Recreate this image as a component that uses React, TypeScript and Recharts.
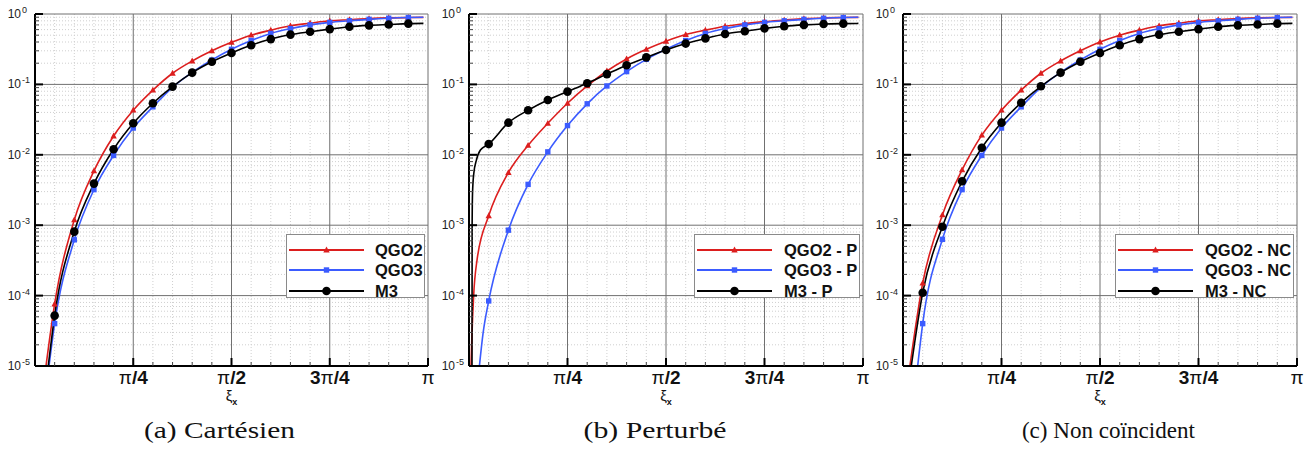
import React from "react";
import { LineChart, Line, XAxis, YAxis, ReferenceLine, Legend } from "recharts";

const PI = Math.PI;

// markers sit every pi/20; the last entry is where the curves stop
const markSteps = [1, 2, 3, 4, 5, 6, 7, 8, 9, 10, 11, 12, 13, 14, 15, 16, 17, 18, 19];
const curveEnd = 3.105;
const xs = [...markSteps.map((k) => (k * PI) / 20), curveEnd];

// (a) Cartésien
const qgo2AHead = [[0.088, 1e-5]];
const qgo2A = [7.6e-5, 1.19e-3, 5.9e-3, 1.85e-2, 4.3e-2, 8.3e-2, 0.144, 0.215, 0.3, 0.396, 0.5, 0.59, 0.68, 0.74, 0.8, 0.83, 0.86, 0.88, 0.89, 0.895];
const qgo3AHead = [[0.112, 1e-5]];
const qgo3A = [4.0e-5, 6.2e-4, 3.2e-3, 9.8e-3, 2.4e-2, 4.8e-2, 9.1e-2, 0.148, 0.222, 0.315, 0.42, 0.53, 0.62, 0.7, 0.76, 0.8, 0.84, 0.87, 0.89, 0.9];
const m3AHead = [[0.106, 1e-5]];
const m3A = [5.2e-5, 8.1e-4, 3.9e-3, 1.2e-2, 2.8e-2, 5.4e-2, 9.3e-2, 0.147, 0.21, 0.28, 0.36, 0.44, 0.51, 0.56, 0.61, 0.66, 0.69, 0.71, 0.73, 0.735];

// (b) Perturbé
const qgo2BHead = [[0.016, 1e-5], [0.024, 2.9e-5], [0.037, 1e-4], [0.064, 3.2e-4]];
const qgo2B = [1.36e-3, 5.6e-3, 1.36e-2, 2.8e-2, 5.4e-2, 9.5e-2, 0.155, 0.23, 0.315, 0.41, 0.51, 0.59, 0.67, 0.73, 0.78, 0.82, 0.86, 0.88, 0.89, 0.895];
const qgo3BHead = [[0.083, 1e-5], [0.112, 2.9e-5]];
const qgo3B = [8.4e-5, 8.5e-4, 3.8e-3, 1.1e-2, 2.6e-2, 5.3e-2, 9.5e-2, 0.152, 0.227, 0.315, 0.42, 0.53, 0.62, 0.7, 0.76, 0.8, 0.84, 0.87, 0.89, 0.9];
const m3BHead = [[0.024, 1e-5], [0.025, 1e-3], [0.028, 2.8e-3], [0.038, 5.4e-3], [0.059, 8.4e-3], [0.091, 1.17e-2]];
const m3B = [1.42e-2, 2.86e-2, 4.3e-2, 6.0e-2, 7.9e-2, 0.104, 0.14, 0.187, 0.242, 0.308, 0.38, 0.45, 0.52, 0.57, 0.625, 0.67, 0.7, 0.72, 0.73, 0.735];

// (c) Non coïncident
const qgo2CHead = [[0.055, 1e-5]];
const qgo2C = [1.5e-4, 1.4e-3, 6.1e-3, 1.9e-2, 4.3e-2, 8.3e-2, 0.144, 0.215, 0.3, 0.4, 0.5, 0.59, 0.68, 0.74, 0.8, 0.83, 0.86, 0.88, 0.89, 0.895];
const qgo3CHead = [[0.117, 1e-5]];
const qgo3C = [4.0e-5, 6.3e-4, 3.2e-3, 9.8e-3, 2.4e-2, 4.8e-2, 9.1e-2, 0.148, 0.222, 0.315, 0.42, 0.53, 0.62, 0.7, 0.76, 0.8, 0.84, 0.87, 0.89, 0.9];
const m3CHead = [[0.066, 1e-5]];
const m3C = [1.1e-4, 9.5e-4, 4.2e-3, 1.26e-2, 2.86e-2, 5.5e-2, 9.4e-2, 0.147, 0.21, 0.28, 0.36, 0.44, 0.51, 0.56, 0.61, 0.66, 0.69, 0.71, 0.73, 0.735];

// axes
const decades = [1e-5, 1e-4, 1e-3, 1e-2, 1e-1, 1];
const minorMult = [2, 3, 4, 5, 6, 7, 8, 9];
const yMinor = decades.slice(0, -1).flatMap((d) => minorMult.map((m) => m * d));
const yTicks = [...decades, ...yMinor];
const xTickSteps = [0, 1, 2, 3, 4, 5, 6, 7, 8, 9, 10, 11, 12, 13, 14, 15, 16, 17, 18, 19, 20];
const xTicks = xTickSteps.map((k) => (k * PI) / 20);
const xMajor = [PI / 4, PI / 2, (3 * PI) / 4, PI];
const xMinor = xTickSteps.filter((k) => k % 5 !== 0).map((k) => (k * PI) / 20);

const RED = "#dc1e1e";
const BLUE = "#3b5bff";
const BLACK = "#000";
const SANS = "'Liberation Sans', Arial, sans-serif";
const SERIF = "'Liberation Serif', 'Times New Roman', serif";

const build = (head: number[][], vals: number[]) => [
  ...head.map(([x, y]) => ({ x, y, m: false })),
  ...vals.map((y, i) => ({ x: xs[i], y, m: i < markSteps.length })),
];

function Marker({ shape, cx, cy, color }: any) {
  if (shape === "tri")
    return <polygon points={`${cx},${cy - 3.4} ${cx - 3.2},${cy + 2.4} ${cx + 3.2},${cy + 2.4}`} fill={color} />;
  if (shape === "sq") return <rect x={cx - 2.7} y={cy - 2.7} width={5.4} height={5.4} fill={color} />;
  return <circle cx={cx} cy={cy} r={4.3} fill={color} />;
}

const dotFor = (shape: string, color: string) => (p: any) => {
  if (!p.payload || !p.payload.m) return <g key={p.index} />;
  return (
    <g key={p.index}>
      <Marker shape={shape} cx={p.cx} cy={p.cy} color={color} />
    </g>
  );
};

function YTick(props: any) {
  const { x, y, payload } = props;
  const lg = Math.log10(payload.value);
  const e = Math.round(lg);
  const major = Math.abs(lg - e) < 1e-6;
  return (
    <g>
      <line x1={x} x2={x + (major ? 8 : 4)} y1={y} y2={y} stroke={major ? "#000" : "#444"} strokeWidth={major ? 2 : 1} />
      {major && (
        <>
          <text x={x - 14} y={y + 4} textAnchor="end" fontFamily={SANS} fontSize={12} fill="#222">10</text>
          <text x={x - 13} y={y - 1} fontFamily={SANS} fontSize={9} fill="#222">{e === 0 ? "0" : `-${-e}`}</text>
        </>
      )}
    </g>
  );
}

function XTick(props: any) {
  const { x, y, payload } = props;
  const k = Math.round(payload.value / (PI / 20));
  const major = k % 5 === 0;
  let label: any = null;
  if (k === 5) label = (<><tspan fontWeight="normal">π</tspan>/4</>);
  if (k === 10) label = (<><tspan fontWeight="normal">π</tspan>/2</>);
  if (k === 15) label = (<>3<tspan fontWeight="normal">π</tspan>/4</>);
  if (k === 20) label = (<tspan fontWeight="normal">π</tspan>);
  return (
    <g>
      {k > 0 && <line x1={x} x2={x} y1={y} y2={y - (major ? 8 : 4)} stroke={major ? "#000" : "#444"} strokeWidth={major ? 2 : 1} />}
      {label && (
        <text x={x} y={y + 18} textAnchor="middle" fontFamily={SANS} fontSize={19} fontWeight="bold" fill="#111">
          {label}
        </text>
      )}
    </g>
  );
}

const xTitle = (p: any) => {
  const vb = p.viewBox || { x: 0, y: 0, width: 0 };
  return (
    <text x={vb.x + vb.width / 2} y={vb.y + 35} textAnchor="middle" fontFamily={SANS} fill="#111">
      <tspan fontSize={15}>ξ</tspan>
      <tspan fontSize={9} fontWeight="bold" dy={4}>x</tspan>
    </text>
  );
};

function LegendBox({ series, width, textLeft }: any) {
  return (
    <div style={{ position: "relative", width, height: 64, boxSizing: "border-box", border: "1px solid #8a8a8a", background: "#fff" }}>
      {series.map((s: any, i: number) => (
        <div key={s.name} style={{ position: "absolute", left: 0, top: 5 + i * 20.4, height: 20, width: width - 2 }}>
          <svg width={78} height={20} style={{ position: "absolute", left: 1, top: 0 }}>
            <line x1={1} x2={76} y1={10} y2={10} stroke={s.color} strokeWidth={1.8} />
            <Marker shape={s.shape} cx={38.5} cy={10} color={s.color} />
          </svg>
          <span style={{ position: "absolute", left: textLeft, top: 1, fontFamily: SANS, fontWeight: "bold", fontSize: 16.5, lineHeight: "18px", color: "#111", whiteSpace: "nowrap" }}>
            {s.name}
          </span>
        </div>
      ))}
    </div>
  );
}

function Panel({ left, width, plotW, series, legend }: any) {
  const right = width - 35 - plotW;
  return (
    <div style={{ position: "absolute", left, top: 0 }}>
      <LineChart width={width} height={452} margin={{ top: 14, right, bottom: 46, left: 0 }}>
        {yMinor.map((v) => (
          <ReferenceLine key={"ym" + v} y={v} stroke="#cfcfcf" strokeDasharray="1 2" />
        ))}
        {xMinor.map((v) => (
          <ReferenceLine key={"xm" + v} x={v} stroke="#cfcfcf" strokeDasharray="1 2" />
        ))}
        {decades.slice(1).map((v) => (
          <ReferenceLine key={"yM" + v} y={v} stroke="#707070" />
        ))}
        {xMajor.map((v) => (
          <ReferenceLine key={"xM" + v} x={v} stroke="#707070" />
        ))}
        <XAxis
          type="number"
          dataKey="x"
          domain={[0, PI]}
          allowDataOverflow
          ticks={xTicks}
          interval={0}
          tickSize={0}
          tickMargin={0}
          tickLine={false}
          tick={XTick}
          axisLine={{ stroke: "#000", strokeWidth: 2 }}
          height={40}
          label={xTitle}
        />
        <YAxis
          type="number"
          scale="log"
          domain={[1e-5, 1]}
          allowDataOverflow
          ticks={yTicks}
          interval={0}
          width={35}
          tickSize={0}
          tickMargin={0}
          tickLine={false}
          tick={YTick}
          axisLine={{ stroke: "#000", strokeWidth: 2 }}
        />
        <Legend
          layout="vertical"
          align="center"
          verticalAlign="middle"
          wrapperStyle={{ left: legend.left, top: 234, width: legend.width, height: 64 }}
          content={() => <LegendBox series={series} width={legend.width} textLeft={legend.textLeft} />}
        />
        {series.map((s: any) => (
          <Line
            key={s.name}
            name={s.name}
            data={build(s.head, s.vals)}
            dataKey="y"
            type="monotone"
            stroke={s.color}
            strokeWidth={1.6}
            dot={dotFor(s.shape, s.color)}
            activeDot={false}
            isAnimationActive={false}
          />
        ))}
      </LineChart>
    </div>
  );
}

const seriesA = [
  { name: "QGO2", color: RED, shape: "tri", head: qgo2AHead, vals: qgo2A },
  { name: "QGO3", color: BLUE, shape: "sq", head: qgo3AHead, vals: qgo3A },
  { name: "M3", color: BLACK, shape: "dot", head: m3AHead, vals: m3A },
];
const seriesB = [
  { name: "QGO2 - P", color: RED, shape: "tri", head: qgo2BHead, vals: qgo2B },
  { name: "QGO3 - P", color: BLUE, shape: "sq", head: qgo3BHead, vals: qgo3B },
  { name: "M3 - P", color: BLACK, shape: "dot", head: m3BHead, vals: m3B },
];
const seriesC = [
  { name: "QGO2 - NC", color: RED, shape: "tri", head: qgo2CHead, vals: qgo2C },
  { name: "QGO3 - NC", color: BLUE, shape: "sq", head: qgo3CHead, vals: qgo3C },
  { name: "M3 - NC", color: BLACK, shape: "dot", head: m3CHead, vals: m3C },
];

export default function App() {
  return (
    <div style={{ position: "absolute", left: 0, top: 0, width: 1312, height: 452, background: "#fff", overflow: "hidden" }}>
      <svg width={1312} height={452} style={{ position: "absolute", left: 0, top: 0 }}>
        <text x={219.5} y={438} textAnchor="middle" fontFamily={SERIF} fontSize={23} textLength={151} lengthAdjust="spacingAndGlyphs" fill="#111">(a) Cartésien</text>
        <text x={655} y={438} textAnchor="middle" fontFamily={SERIF} fontSize={23} textLength={143} lengthAdjust="spacingAndGlyphs" fill="#111">(b) Perturbé</text>
        <text x={1108.4} y={438} textAnchor="middle" fontFamily={SERIF} fontSize={23} textLength={173} lengthAdjust="spacingAndGlyphs" fill="#111">(c) Non coïncident</text>
      </svg>
      <Panel left={0} width={440} plotW={393} series={seriesA} legend={{ left: 286, width: 139, textLeft: 88 }} />
      <Panel left={434} width={440} plotW={394} series={seriesB} legend={{ left: 260, width: 166, textLeft: 89 }} />
      <Panel left={868} width={444} plotW={394} series={seriesC} legend={{ left: 247, width: 179, textLeft: 89 }} />
    </div>
  );
}
